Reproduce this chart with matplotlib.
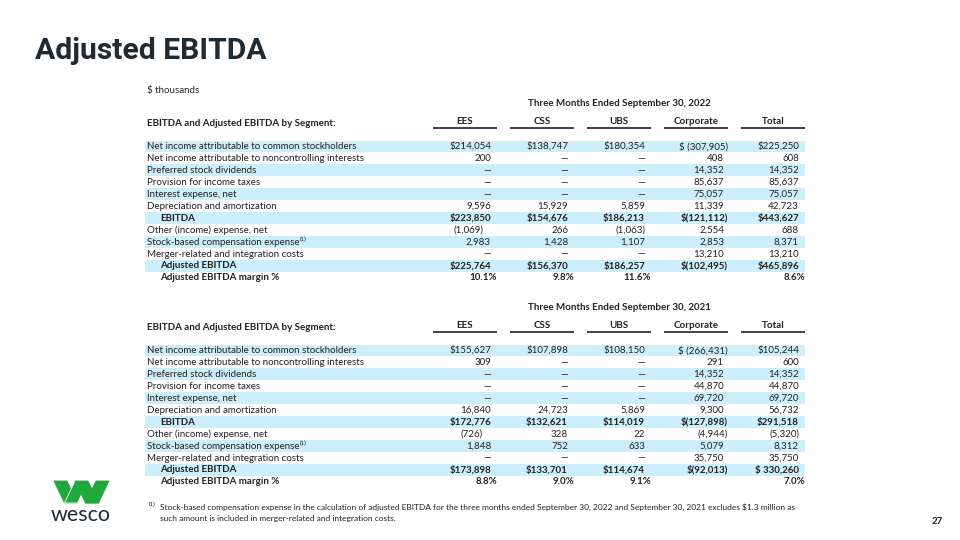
"""
Adjusted EBITDA slide: segment reconciliation tables drawn as text on a pixel grid.
"""

import matplotlib
matplotlib.use("Agg")
import matplotlib.pyplot as plt
from matplotlib.patches import Rectangle, Polygon

FONT = "Lato"
TITLE_FONT = "Roboto"
TEXT = "#222222"
SHADE = "#cdeefc"
GREEN = "#1fa83c"

SEGMENTS = ["EES", "CSS", "UBS", "Corporate", "Total"]
PERIODS = ["Three Months Ended September 30, 2022", "Three Months Ended September 30, 2021"]
ROW_LABELS = [
    "Net income attributable to common stockholders",
    "Net income attributable to noncontrolling interests",
    "Preferred stock dividends",
    "Provision for income taxes",
    "Interest expense, net",
    "Depreciation and amortization",
    "EBITDA",
    "Other (income) expense, net",
    "Stock-based compensation expense",
    "Merger-related and integration costs",
    "Adjusted EBITDA",
    "Adjusted EBITDA margin %",
]
BOLD_ROWS = {"EBITDA", "Adjusted EBITDA", "Adjusted EBITDA margin %"}
FOOTNOTE_ROW = "Stock-based compensation expense"

EES_2022 = ["$214,054", "200", "—", "—", "—", "9,596", "$223,850", "(1,069)", "2,983", "—", "$225,764", "10.1%"]
CSS_2022 = ["$138,747", "—", "—", "—", "—", "15,929", "$154,676", "266", "1,428", "—", "$156,370", "9.8%"]
UBS_2022 = ["$180,354", "—", "—", "—", "—", "5,859", "$186,213", "(1,063)", "1,107", "—", "$186,257", "11.6%"]
CORP_2022 = ["$ (307,905)", "408", "14,352", "85,637", "75,057", "11,339", "$(121,112)", "2,554", "2,853", "13,210", "$(102,495)", ""]
TOTAL_2022 = ["$225,250", "608", "14,352", "85,637", "75,057", "42,723", "$443,627", "688", "8,371", "13,210", "$465,896", "8.6%"]

EES_2021 = ["$155,627", "309", "—", "—", "—", "16,840", "$172,776", "(726)", "1,848", "—", "$173,898", "8.8%"]
CSS_2021 = ["$107,898", "—", "—", "—", "—", "24,723", "$132,621", "328", "752", "—", "$133,701", "9.0%"]
UBS_2021 = ["$108,150", "—", "—", "—", "—", "5,869", "$114,019", "22", "633", "—", "$114,674", "9.1%"]
CORP_2021 = ["$ (266,431)", "291", "14,352", "44,870", "69,720", "9,300", "$(127,898)", "(4,944)", "5,079", "35,750", "$(92,013)", ""]
TOTAL_2021 = ["$105,244", "600", "14,352", "44,870", "69,720", "56,732", "$291,518", "(5,320)", "8,312", "35,750", "$ 330,260", "7.0%"]

FOOTNOTE = [
    "Stock-based compensation expense in the calculation of adjusted EBITDA for the three months ended "
    "September 30, 2022 and September 30, 2021 excludes $1.3 million as",
    "such amount is included in merger-related and integration costs.",
]

# layout (pixel grid, y grows downward)
COL_LEFT = [433, 510, 587, 664, 741]
COL_W = 64
NUM_PAD = [6, 6, 6, 4, 6]
PAREN_PAD = [14, 6, 6, 0, 6]
LABEL_X = 147
INDENT_X = 160
ROW_H = 11.95
BODY = 7.0


def cell_right(ci, s):
    right = COL_LEFT[ci] + COL_W
    if s.endswith("%"):
        return right
    if s.endswith(")"):
        return right - PAREN_PAD[ci]
    return right - NUM_PAD[ci]


def draw_table(ax, fig, period, columns, y_top):
    ax.text(619, y_top, period, fontsize=BODY, weight="bold", color=TEXT,
            ha="center", va="center", family=FONT)
    y_head = y_top + 18
    ax.text(LABEL_X, y_head + 1, "EBITDA and Adjusted EBITDA by Segment:", fontsize=BODY,
            weight="bold", color=TEXT, ha="left", va="center", family=FONT)
    for ci, seg in enumerate(SEGMENTS):
        ax.text(COL_LEFT[ci] + COL_W / 2, y_head, seg, fontsize=BODY, weight="bold",
                color=TEXT, ha="center", va="center", family=FONT)
        ax.plot([COL_LEFT[ci], COL_LEFT[ci] + COL_W], [y_head + 6, y_head + 6],
                color=TEXT, lw=1.2, solid_capstyle="butt")

    y0 = y_head + 24.5
    renderer = fig.canvas.get_renderer()
    for ri, label in enumerate(ROW_LABELS):
        y = y0 + ri * ROW_H
        if ri % 2 == 0:
            ax.add_patch(Rectangle((145, y - ROW_H / 2), 805 - 145, ROW_H,
                                   facecolor=SHADE, edgecolor="none", zorder=0))
        bold = label in BOLD_ROWS
        x = INDENT_X if bold else LABEL_X
        t = ax.text(x, y, label, fontsize=BODY, weight="bold" if bold else "normal",
                    color=TEXT, ha="left", va="center", family=FONT)
        if label == FOOTNOTE_ROW:
            bb = t.get_window_extent(renderer)
            xr = ax.transData.inverted().transform((bb.x1, bb.y1))[0]
            ax.text(xr + 0.5, y - 2.5, "(1)", fontsize=4.3, color=TEXT,
                    ha="left", va="center", family=FONT)
        for ci, col in enumerate(columns):
            s = col[ri]
            if not s:
                continue
            ax.text(cell_right(ci, s), y, s, fontsize=BODY,
                    weight="bold" if bold else "normal", color=TEXT,
                    ha="right", va="center", family=FONT)


def draw_logo(ax):
    # four slanted strokes forming the W mark
    top, bot = 481, 503
    s, w = 10.5, 13
    a = 54
    strokes = [
        [(a, top), (a + w, top), (a + s + w, bot), (a + s, bot)],
        [(a + s, bot), (a + s + w, bot), (a + 2 * s + w, top), (a + 2 * s, top)],
        [(a + 2 * s, top), (a + 2 * s + w, top), (a + 3 * s + w, bot), (a + 3 * s, bot)],
        [(a + 3 * s, bot), (a + 3 * s + w, bot), (a + 4 * s + w, top), (a + 4 * s, top)],
    ]
    for i, pts in enumerate(strokes):
        ax.add_patch(Polygon(pts, closed=True, facecolor=GREEN,
                             edgecolor="white" if i == 1 else GREEN, lw=0.6))
    ax.text(81, 515, "wesco", fontsize=15.5, color="#1f2a33",
            ha="center", va="center", family=FONT)


def main() -> None:
    fig = plt.figure(figsize=(9.6, 5.4), dpi=100)
    ax = fig.add_axes([0, 0, 1, 1])
    ax.set_xlim(0, 960)
    ax.set_ylim(540, 0)
    ax.axis("off")

    ax.text(35, 59, "Adjusted EBITDA", fontsize=21.7, weight="bold", color="#1f2a33",
            ha="left", va="baseline", family=TITLE_FONT)
    ax.text(147, 90, "$ thousands", fontsize=BODY, color=TEXT, ha="left", va="center", family=FONT)

    draw_table(ax, fig, PERIODS[0], [EES_2022, CSS_2022, UBS_2022, CORP_2022, TOTAL_2022], 104)
    draw_table(ax, fig, PERIODS[1], [EES_2021, CSS_2021, UBS_2021, CORP_2021, TOTAL_2021], 308)

    ax.text(149, 504, "(1)", fontsize=4.3, color=TEXT, ha="left", va="center", family=FONT)
    for i, line in enumerate(FOOTNOTE):
        ax.text(160, 507 + i * 12, line, fontsize=6.05, color=TEXT, ha="left", va="center", family=FONT)
    ax.text(937, 521, "27", fontsize=7, weight="bold", color=TEXT, ha="center", va="center", family=FONT)

    draw_logo(ax)
    fig.savefig("out.png", dpi=100)
    plt.close(fig)


if __name__ == "__main__":
    main()
